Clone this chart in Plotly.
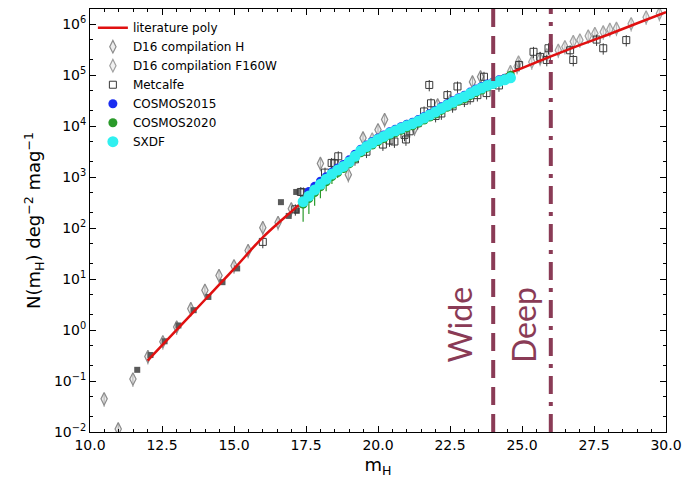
import numpy as np
import plotly.graph_objects as go

# ---------------- data (log10 N values) ----------------
poly_mag = [12, 13, 14, 15, 16, 17, 18, 19, 20, 21, 22, 23, 24, 25, 26, 27, 28, 29, 30]
poly_logN = [-0.60, 0.00, 0.60, 1.20, 1.82, 2.33, 2.82, 3.30, 3.72, 4.03, 4.33, 4.62, 4.90,
             5.14, 5.37, 5.59, 5.80, 6.02, 6.24]

d16h_mag = [10.49, 10.98, 11.49, 12.01, 12.53, 13.01, 13.50, 13.99, 14.48, 15.00, 15.49,
            16.00, 16.53, 16.99, 18.00, 18.97, 19.48, 20.00, 20.23, 21.27, 22.07, 23.28, 23.56]
d16h_logN = [-1.35, -1.94, -0.96, -0.52, -0.23, 0.06, 0.42, 0.78, 1.07, 1.26, 1.56,
             2.01, 2.11, 2.38, 3.27, 3.05, 3.77, 3.93, 4.13, 3.96, 4.42, 4.87, 4.97]

f160w_mag = [19.80, 21.00, 22.50, 24.60, 24.83, 24.88, 25.34, 25.63, 25.86, 26.26, 26.49, 26.78,
             27.01, 27.30, 27.53, 27.82, 28.05, 28.28, 28.79, 29.31, 29.77]
f160w_logN = [3.75, 4.00, 4.50, 5.07, 5.17, 5.26, 5.26, 5.33, 5.40, 5.49, 5.56, 5.66,
              5.69, 5.77, 5.82, 5.85, 5.90, 5.92, 6.01, 6.14, 6.21]

metc_mag = [16.00, 17.13, 17.32, 17.41, 18.16, 18.39, 18.48, 18.62, 19.20, 19.60, 20.17, 20.40,
            20.57, 20.92, 20.97, 21.10, 21.38, 21.60, 21.78, 21.84, 22.00, 22.20, 22.41, 22.59,
            22.76, 23.00, 23.20, 23.45, 23.68, 23.77, 24.20, 24.90, 25.40, 25.63, 25.86, 25.92,
            26.67, 26.78, 27.59, 27.82, 28.62]
metc_logN = [1.73, 2.37, 2.71, 2.70, 3.09, 3.28, 3.27, 3.41, 3.35, 3.50, 3.64, 3.72,
             3.70, 3.83, 3.74, 3.90, 4.06, 4.29, 4.81, 4.45, 4.20, 4.25, 4.61, 4.39,
             4.78, 4.50, 4.55, 4.61, 4.97, 4.65, 4.80, 5.20, 5.46, 5.36, 5.30, 5.53,
             5.49, 5.30, 5.70, 5.53, 5.69]

other_mag = [11.64, 12.10, 12.59, 13.07, 13.60, 14.11, 14.60, 15.11, 16.63, 16.90, 17.16, 17.18, 17.45]
other_logN = [-0.78, -0.49, -0.22, 0.09, 0.39, 0.65, 0.94, 1.21, 2.51, 2.24, 2.71, 2.34, 2.60]

survey_mag = [17.4, 17.6, 17.8, 18.0, 18.2, 18.4, 18.6, 18.8, 19.0, 19.2, 19.4, 19.6, 19.8,
              20.0, 20.2, 20.4, 20.6, 20.8, 21.0, 21.2, 21.4, 21.6, 21.8, 22.0, 22.2, 22.4,
              22.6, 22.8, 23.0, 23.2, 23.4, 23.6, 23.8, 24.0, 24.2, 24.4, 24.6]
sxdf_logN = [2.52, 2.63, 2.75, 2.86, 2.96, 3.06, 3.14, 3.21, 3.30, 3.41, 3.52, 3.60, 3.67,
             3.74, 3.80, 3.86, 3.91, 3.96, 4.01, 4.05, 4.10, 4.16, 4.22, 4.28, 4.35, 4.41,
             4.47, 4.53, 4.58, 4.64, 4.70, 4.75, 4.80, 4.84, 4.88, 4.91, 4.95]
c15_logN = [2.60, 2.72, 2.82, 2.92, 3.01, 3.10, 3.18, 3.25, 3.34, 3.45, 3.55, 3.63, 3.70,
            3.77, 3.83, 3.89, 3.94, 3.99, 4.04, 4.08, 4.13, 4.19, 4.25, 4.31, 4.38, 4.44,
            4.50, 4.56, 4.61, 4.67, 4.73, 4.78, 4.83, 4.87, 4.91, 4.94, 4.98]
c20_logN = [2.47, 2.58, 2.70, 2.81, 2.91, 3.01, 3.09, 3.17, 3.26, 3.37, 3.48, 3.56, 3.63,
            3.70, 3.76, 3.82, 3.87, 3.92, 3.97, 4.01, 4.06, 4.12, 4.18, 4.24, 4.31, 4.37,
            4.43, 4.49, 4.54, 4.60, 4.66, 4.71, 4.77, 4.82, 4.87, 4.93, 5.00]
c20_errfrac = [0.55, 0.50, 0.45, 0.40, 0.35, 0.28, 0.22, 0.16, 0.12, 0.10, 0.08, 0.06, 0.05,
               0.05, 0.05, 0.05, 0.05, 0.05, 0.05, 0.05, 0.05, 0.05, 0.05, 0.05, 0.05, 0.05,
               0.05, 0.05, 0.05, 0.05, 0.05, 0.05, 0.05, 0.05, 0.05, 0.05, 0.05]

xticks = [10.0, 12.5, 15.0, 17.5, 20.0, 22.5, 25.0, 27.5, 30.0]
ytick_exp = [-2, -1, 0, 1, 2, 3, 4, 5, 6]

wide_mag, deep_mag = 24.0, 26.0

# ---------------- figure ----------------
def lin(v):
    return 10 ** np.array(v, dtype=float)

MAROON = '#8A3B56'
fig = go.Figure()

fig.add_trace(go.Scatter(
    x=d16h_mag, y=lin(d16h_logN), mode='markers', name='D16 compilation H', legendrank=2,
    marker=dict(symbol='diamond-tall', size=9, color='rgba(215,215,215,0.45)',
                line=dict(color='#8c8c8c', width=1.2)),
    error_y=dict(type='percent', value=30, color='#8c8c8c', thickness=1, width=0)))
fig.add_trace(go.Scatter(
    x=f160w_mag, y=lin(f160w_logN), mode='markers', name='D16 compilation F160W', legendrank=3,
    marker=dict(symbol='diamond-tall', size=9, color='rgba(225,225,225,0.45)',
                line=dict(color='#a0a0a0', width=1.2)),
    error_y=dict(type='percent', value=30, color='#a0a0a0', thickness=1, width=0)))
fig.add_trace(go.Scatter(
    x=other_mag, y=lin(other_logN), mode='markers', showlegend=False,
    marker=dict(symbol='square', size=6, color='#5a5a5a')))
fig.add_trace(go.Scatter(
    x=metc_mag, y=lin(metc_logN), mode='markers', name='Metcalfe', legendrank=4,
    marker=dict(symbol='square-open', size=7, color='#3a3a3a', line=dict(width=1)),
    error_y=dict(type='percent', value=25, color='#3a3a3a', thickness=1, width=0)))
fig.add_trace(go.Scatter(
    x=poly_mag, y=lin(poly_logN), mode='lines', name='literature poly', legendrank=1,
    line=dict(color='#e01010', width=2.5, shape='spline')))
fig.add_trace(go.Scatter(
    x=survey_mag[1:-1], y=lin(c15_logN[1:-1]), mode='markers', name='COSMOS2015', legendrank=5,
    marker=dict(symbol='circle', size=9, color='#1a2cf0')))
c20 = lin(c20_logN)
fig.add_trace(go.Scatter(
    x=survey_mag, y=c20, mode='markers', name='COSMOS2020', legendrank=6,
    marker=dict(symbol='circle', size=9, color='#2a9a2a'),
    error_y=dict(type='data', array=c20 * 0.05, arrayminus=c20 * np.array(c20_errfrac),
                 color='#2a9a2a', thickness=1.2, width=0)))
fig.add_trace(go.Scatter(
    x=survey_mag, y=lin(sxdf_logN), mode='markers', name='SXDF', legendrank=7,
    marker=dict(symbol='circle', size=11, color='#30f0f0')))

# survey depth lines
fig.add_shape(type='line', xref='x', yref='paper', x0=wide_mag, x1=wide_mag, y0=0, y1=1,
              line=dict(color=MAROON, width=4, dash='18px,9px'))
fig.add_shape(type='line', xref='x', yref='paper', x0=deep_mag, x1=deep_mag, y0=0, y1=1,
              line=dict(color=MAROON, width=4, dash='18px,8px,4px,8px'))

fig.add_annotation(x=22.83, y=0.10, xref='x', yref='y', text='Wide', textangle=-90,
                   showarrow=False, font=dict(family='Comic Sans MS, Lato, sans-serif', size=32, color=MAROON))
fig.add_annotation(x=25.07, y=0.10, xref='x', yref='y', text='Deep', textangle=-90,
                   showarrow=False, font=dict(family='Comic Sans MS, Lato, sans-serif', size=32, color=MAROON))

fig.update_layout(
    width=690, height=479,
    margin=dict(l=90, r=19, t=8, b=45),
    paper_bgcolor='white', plot_bgcolor='white',
    font=dict(family='DejaVu Sans', color='black'),
    legend=dict(x=0.005, y=0.99, xanchor='left', yanchor='top', bgcolor='rgba(255,255,255,0)',
                font=dict(size=12), tracegroupgap=0),
)
fig.update_xaxes(
    range=[10, 30], tickvals=xticks, ticktext=[f'{v:.1f}' for v in xticks],
    ticks='inside', ticklen=6, tickcolor='black', mirror='allticks', showline=True,
    linecolor='black', linewidth=1, showgrid=False, zeroline=False,
    tickfont=dict(size=14),
    minor=dict(dtick=0.5, tick0=10, ticks='inside', ticklen=3, tickcolor='black'),
    title=dict(text='m<sub>H</sub>', font=dict(size=18), standoff=6))
fig.update_yaxes(
    type='log', range=[-2, 6.3],
    tickvals=[10.0 ** e for e in ytick_exp],
    ticktext=['10<sup>%s</sup>' % (str(e).replace('-', '−')) for e in ytick_exp],
    ticks='inside', ticklen=6, tickcolor='black', mirror='allticks', showline=True,
    linecolor='black', linewidth=1, showgrid=False, zeroline=False,
    tickfont=dict(size=14),
    minor=dict(ticks='inside', ticklen=3, tickcolor='black', showgrid=False),
    title=dict(text='N(m<sub>H</sub>) deg<sup>−2</sup> mag<sup>−1</sup>', font=dict(size=18), standoff=8))

fig.write_html('out.html')
